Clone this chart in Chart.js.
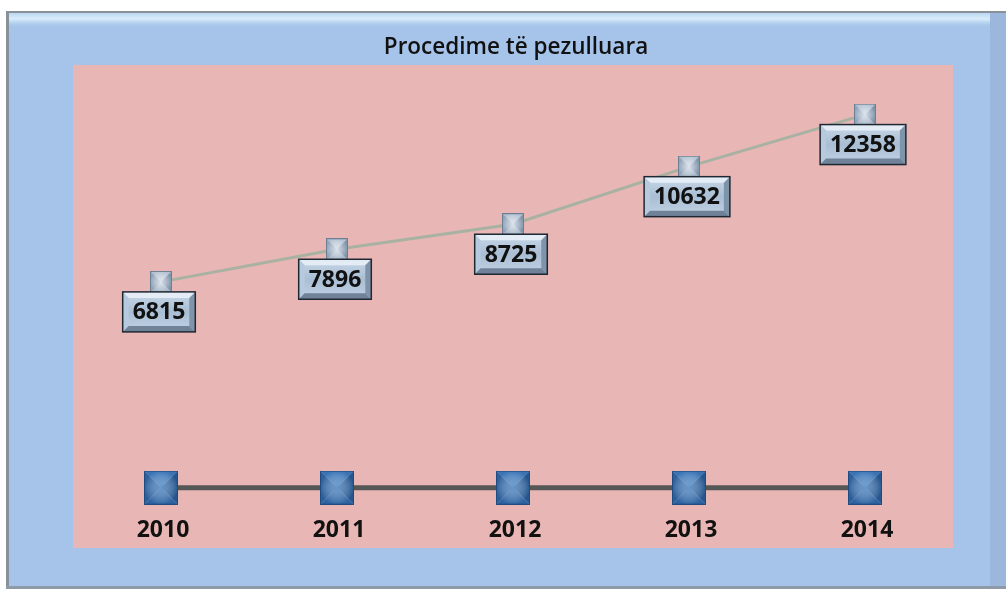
<!DOCTYPE html>
<html>
<head>
<meta charset="utf-8">
<script src="https://cdn.jsdelivr.net/npm/chart.js@4"></script>
<style>
    body { margin: 0; background: #fff; }
    #chart { display: block; }
</style>
</head>
<body>
<canvas id="chart" width="1006" height="592"></canvas>
<script>
// Chart data
const chartTitle = 'Procedime të pezulluara';
const years = ['2010', '2011', '2012', '2013', '2014'];
const caseCounts = [6815, 7896, 8725, 10632, 12358];
const yearRow = [0, 0, 0, 0, 0];
const yAxisMin = -2000;
const yAxisMax = 14000;

// pyramid-looking square marker, like the excel bevel markers
function makeMarker(size, c) {
    const cv = document.createElement('canvas');
    cv.width = size;
    cv.height = size;
    const ctx = cv.getContext('2d');
    const m = size / 2;
    const tri = (pts, color) => {
        ctx.beginPath();
        ctx.moveTo(pts[0], pts[1]);
        ctx.lineTo(pts[2], pts[3]);
        ctx.lineTo(m, m);
        ctx.closePath();
        ctx.fillStyle = color;
        ctx.fill();
    };
    tri([0, 0, size, 0], c.top);
    tri([size, 0, size, size], c.right);
    tri([size, size, 0, size], c.bottom);
    tri([0, size, 0, 0], c.left);
    const g = ctx.createRadialGradient(m, m, 0, m, m, m);
    g.addColorStop(0, c.glow);
    g.addColorStop(1, 'rgba(255,255,255,0)');
    ctx.fillStyle = g;
    ctx.fillRect(0, 0, size, size);
    ctx.strokeStyle = c.edge;
    ctx.lineWidth = 1;
    ctx.strokeRect(0.5, 0.5, size - 1, size - 1);
    return cv;
}

const smallMarker = makeMarker(22, {
    top: '#b4c3d3', right: '#7d93ab', bottom: '#a5b6c8', left: '#8fa3b9',
    glow: 'rgba(235,240,248,0.8)', edge: '#6c7f94'
});
const bigMarker = makeMarker(34, {
    top: '#3a74b6', right: '#24568f', bottom: '#2d64a3', left: '#2a5f9c',
    glow: 'rgba(120,170,220,0.7)', edge: '#1f4c80'
});

function bevelBox(ctx, x, y, w, h) {
    const b = 6;
    ctx.save();
    // face
    const g = ctx.createLinearGradient(0, y, 0, y + h);
    g.addColorStop(0, '#c9d8e8');
    g.addColorStop(0.5, '#a9bed4');
    g.addColorStop(1, '#c2d2e3');
    ctx.fillStyle = g;
    ctx.fillRect(x, y, w, h);
    const side = (pts, color) => {
        ctx.beginPath();
        ctx.moveTo(pts[0], pts[1]);
        for (let i = 2; i < pts.length; i += 2) ctx.lineTo(pts[i], pts[i + 1]);
        ctx.closePath();
        ctx.fillStyle = color;
        ctx.fill();
    };
    side([x, y, x + w, y, x + w - b, y + b, x + b, y + b], '#e4edf6');
    side([x, y, x + b, y + b, x + b, y + h - b, x, y + h], '#b7c9dc');
    side([x + w, y, x + w, y + h, x + w - b, y + h - b, x + w - b, y + b], '#7f93a9');
    side([x, y + h, x + b, y + h - b, x + w - b, y + h - b, x + w, y + h], '#6f8298');
    ctx.strokeStyle = '#1e2833';
    ctx.lineWidth = 1.5;
    ctx.strokeRect(x, y, w, h);
    ctx.restore();
}

const backgroundPlugin = {
    id: 'frameBackground',
    beforeDraw(chart) {
        const ctx = chart.ctx;
        const area = chart.chartArea;
        ctx.save();
        ctx.fillStyle = '#ffffff';
        ctx.fillRect(0, 0, chart.width, chart.height);
        // outer frame
        ctx.fillStyle = '#8a9098';
        ctx.fillRect(6, 11, 1000, 578);
        ctx.fillStyle = '#a6c4ea';
        ctx.fillRect(9, 13, 997, 574);
        const hg = ctx.createLinearGradient(0, 13, 0, 28);
        hg.addColorStop(0, '#bcd6f0');
        hg.addColorStop(0.4, '#d9eefb');
        hg.addColorStop(1, 'rgba(166,196,234,0)');
        ctx.fillStyle = hg;
        ctx.fillRect(9, 13, 997, 15);
        ctx.fillStyle = '#9bb8dc';
        ctx.fillRect(990, 13, 16, 574);
        ctx.fillStyle = '#8e9aa8';
        ctx.fillRect(6, 586, 1000, 3);
        // plot area
        ctx.fillStyle = '#e8b7b5';
        ctx.fillRect(area.left, area.top, area.right - area.left, area.bottom - area.top);
        // title
        ctx.fillStyle = '#111111';
        ctx.font = '600 22.5px "Open Sans"';
        ctx.textAlign = 'center';
        ctx.textBaseline = 'middle';
        ctx.fillText(chartTitle, 516, 48);
        ctx.restore();
    }
};

const labelPlugin = {
    id: 'boxLabels',
    afterDatasetsDraw(chart) {
        const ctx = chart.ctx;
        ctx.save();
        // value boxes under the upper markers
        const top = chart.getDatasetMeta(0);
        ctx.font = 'bold 23px "Open Sans"';
        ctx.textAlign = 'center';
        ctx.textBaseline = 'middle';
        top.data.forEach((pt, i) => {
            const text = String(caseCounts[i]);
            const w = ctx.measureText(text).width + 20;
            const h = 40;
            const x = pt.x - w / 2 - 2;
            const y = pt.y + 10;
            bevelBox(ctx, x, y, w, h);
            ctx.fillStyle = '#111111';
            ctx.fillText(text, pt.x - 2, y + h / 2 + 1);
        });
        // year labels under the lower markers
        const bottom = chart.getDatasetMeta(1);
        ctx.font = 'bold 23px "Open Sans"';
        bottom.data.forEach((pt, i) => {
            ctx.fillStyle = '#111111';
            ctx.fillText(years[i], pt.x + 2, pt.y + 43);
        });
        ctx.restore();
    }
};

new Chart(document.getElementById('chart'), {
    type: 'line',
    data: {
        labels: years,
        datasets: [{
            label: chartTitle,
            data: caseCounts,
            borderColor: '#a9b1a3',
            borderWidth: 3,
            pointStyle: smallMarker,
            pointRadius: 11,
            tension: 0
        }, {
            label: 'Viti',
            data: yearRow,
            borderColor: '#565656',
            borderWidth: 5,
            pointStyle: bigMarker,
            pointRadius: 17,
            tension: 0
        }]
    },
    options: {
        responsive: false,
        animation: false,
        layout: {
            padding: { left: 73, right: 53, top: 65, bottom: 44 }
        },
        plugins: {
            legend: { display: false },
            tooltip: { enabled: false },
            title: { display: false }
        },
        scales: {
            x: {
                display: false,
                offset: true
            },
            y: {
                display: false,
                min: yAxisMin,
                max: yAxisMax
            }
        }
    },
    plugins: [backgroundPlugin, labelPlugin]
});
</script>
</body>
</html>
